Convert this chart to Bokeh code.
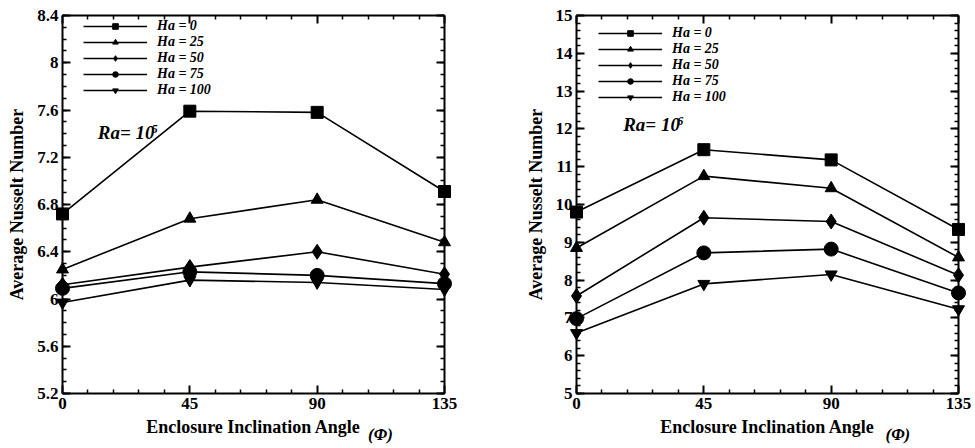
from bokeh.plotting import figure
from bokeh.layouts import row
from bokeh.models import (LinearAxis, FixedTicker, Range1d, Legend, LegendItem, Label)
from bokeh.core.properties import value
from bokeh.embed import file_html
from bokeh.resources import INLINE

angles = [0, 45, 90, 135]
ha_labels = ["Ha = 0", "Ha = 25", "Ha = 50", "Ha = 75", "Ha = 100"]
markers = ["square", "triangle", "diamond", "circle", "inverted_triangle"]
marker_sizes = [12, 12, 15, 14, 12]

# Ra = 1e5
nu_ra5 = [
    [6.72, 7.59, 7.58, 6.91],
    [6.25, 6.68, 6.84, 6.48],
    [6.12, 6.27, 6.40, 6.21],
    [6.09, 6.23, 6.20, 6.13],
    [5.97, 6.16, 6.14, 6.08],
]
# Ra = 1e6
nu_ra6 = [
    [9.80, 11.45, 11.18, 9.34],
    [8.85, 10.75, 10.43, 8.60],
    [7.58, 9.65, 9.55, 8.13],
    [6.98, 8.72, 8.82, 7.66],
    [6.60, 7.90, 8.15, 7.23],
]

x_ticks = [0, 45, 90, 135]
x_minor = [9, 18, 27, 36, 54, 63, 72, 81, 99, 108, 117, 126]
y_ticks_5 = [5.2, 5.6, 6.0, 6.4, 6.8, 7.2, 7.6, 8.0, 8.4]
y_labels_5 = ["5.2", "5.6", "6", "6.4", "6.8", "7.2", "7.6", "8", "8.4"]
y_minor_5 = [round(5.2 + 0.1 * i, 2) for i in range(33)]
y_ticks_6 = [5, 6, 7, 8, 9, 10, 11, 12, 13, 14, 15]
y_labels_6 = [str(t) for t in y_ticks_6]
y_minor_6 = [round(5 + 0.2 * i, 2) for i in range(51)]

FONT = "Liberation Serif"


def style_axis(ax, ticks, minor, labels=None, show_labels=True):
    ax.ticker = FixedTicker(ticks=ticks, minor_ticks=minor)
    ax.axis_line_width = 2
    ax.axis_line_color = "black"
    ax.major_tick_in = 8
    ax.major_tick_out = 0
    ax.minor_tick_in = 4
    ax.minor_tick_out = 0
    ax.major_tick_line_width = 2
    ax.minor_tick_line_width = 1.5
    ax.major_label_text_font = FONT
    ax.major_label_text_font_style = "bold"
    if labels is not None:
        ax.major_label_overrides = {t: l for t, l in zip(ticks, labels)}
    if show_labels:
        ax.major_label_text_color = "black"
        ax.major_label_text_font_size = "17px"
        ax.major_label_standoff = 4
    else:
        ax.major_label_text_color = None
        ax.major_label_text_font_size = "1px"
        ax.major_label_standoff = 0


def make_panel(data, ylo, yhi, yticks, yminor, ylabels, ra_text, ra_sup,
               ra_pos, phi_pos, left, right, legend_loc):
    p = figure(frame_width=382, frame_height=378, output_backend="svg",
               toolbar_location=None, x_range=Range1d(0, 135),
               y_range=Range1d(ylo, yhi), min_border_left=left,
               min_border_right=right, min_border_top=15, min_border_bottom=55,
               x_axis_location=None, y_axis_location=None)
    p.xgrid.visible = False
    p.ygrid.visible = False
    p.outline_line_color = None

    xb = LinearAxis(axis_label="Enclosure Inclination Angle")
    yl = LinearAxis(axis_label="Average Nusselt Number")
    xt = LinearAxis()
    yr = LinearAxis()
    style_axis(xb, x_ticks, x_minor)
    style_axis(yl, yticks, yminor, ylabels)
    style_axis(xt, x_ticks, x_minor, show_labels=False)
    style_axis(yr, yticks, yminor, show_labels=False)
    for ax in (xb, yl):
        ax.axis_label_text_font = FONT
        ax.axis_label_text_font_style = "bold"
        ax.axis_label_text_font_size = "18px"
        ax.axis_label_text_color = "black"
    xb.axis_label_standoff = 5
    yl.axis_label_standoff = 7
    p.add_layout(xb, "below")
    p.add_layout(yl, "left")
    p.add_layout(xt, "above")
    p.add_layout(yr, "right")

    items = []
    for vals, lab, mk, ms in zip(data, ha_labels, markers, marker_sizes):
        ln = p.line(angles, vals, line_color="black", line_width=1.6)
        sc = p.scatter(angles, vals, marker=mk, size=ms, fill_color="black",
                       line_color="black", level="overlay")
        items.append(LegendItem(label=lab, renderers=[ln, sc]))

    leg = Legend(items=items, location=legend_loc, orientation="vertical",
                 glyph_width=64, glyph_height=14, label_height=14,
                 label_standoff=10, spacing=0, padding=0, margin=0,
                 border_line_color=None, background_fill_alpha=0,
                 label_text_font=FONT, label_text_font_style="bold italic",
                 label_text_font_size="14px", label_text_color="black")
    p.add_layout(leg)

    p.add_layout(Label(x=ra_pos[0], y=ra_pos[1], text=ra_text,
                       text_font=FONT, text_font_style="bold italic",
                       text_font_size="19px", text_color="black"))
    p.add_layout(Label(x=ra_pos[0], y=ra_pos[1], x_offset=54, y_offset=10,
                       text=ra_sup, text_font=FONT,
                       text_font_style="bold italic", text_font_size="12px",
                       text_color="black"))
    p.text(x=[phi_pos[0]], y=[phi_pos[1]], text=["(\u03a6)"],
           text_font=value(FONT), text_font_style="bold italic",
           text_font_size="17px", text_color="black",
           text_baseline="middle", text_align="left", level="overlay")
    return p


p1 = make_panel(nu_ra5, 5.2, 8.4, y_ticks_5, y_minor_5, y_labels_5,
                "Ra= 10", "5", (12.5, 7.32), (108.0, 4.853), 62, 43, (21, 295))
p2 = make_panel(nu_ra6, 5, 15, y_ticks_6, y_minor_6, y_labels_6,
                "Ra= 10", "6", (16.5, 11.85), (109.2, 3.915), 89, 17, (22, 288))

p = row(p1, p2)
open("out.html", "w").write(file_html(p, INLINE))
